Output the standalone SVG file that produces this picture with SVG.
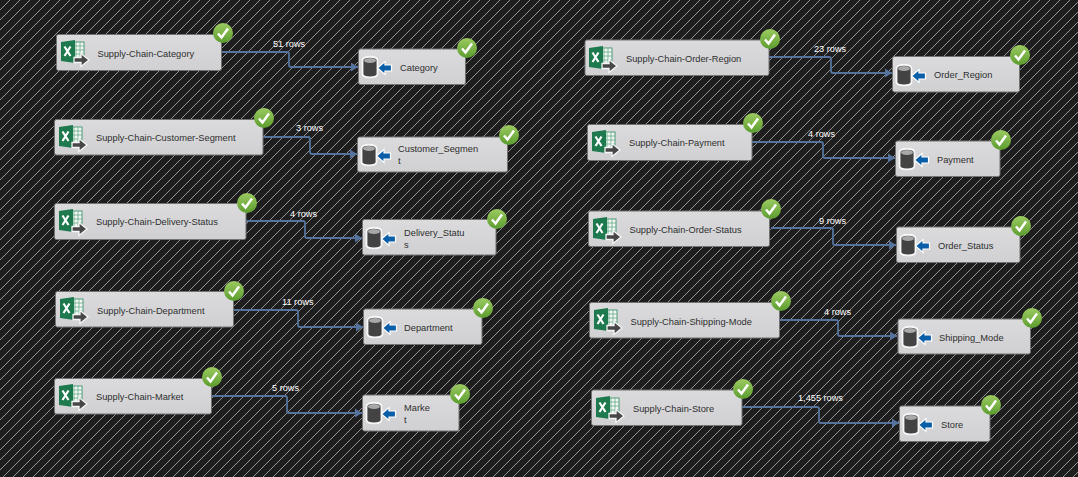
<svg xmlns="http://www.w3.org/2000/svg" width="1078" height="477" viewBox="0 0 1078 477">
<style>
.box{fill:url(#nodeFill);stroke:#737373;stroke-width:1}
.t{font-family:"Liberation Sans",Arial,sans-serif;font-size:9.3px;fill:#2e2e2e}
.r{font-family:"Liberation Sans",Arial,sans-serif;font-size:9.2px;fill:#fff}
.c{fill:none;stroke:#55739c;stroke-width:1.8}
</style>
<defs>
<pattern id="hatch" width="10" height="10" patternUnits="userSpaceOnUse">
<rect width="10" height="10" fill="#1e1e1e"/><path d="M-1,11L11,-1" stroke="#929292" stroke-width="1" shape-rendering="crispEdges"/>
</pattern>
<linearGradient id="nodeFill" x1="0" y1="0" x2="0" y2="1"><stop offset="0" stop-color="#dbdbdd"/><stop offset="1" stop-color="#d0d0d2"/></linearGradient>
<linearGradient id="okFill" x1="0" y1="0" x2="0" y2="1"><stop offset="0" stop-color="#9ccb62"/><stop offset="1" stop-color="#5c9c2e"/></linearGradient>
<marker id="arrow" markerUnits="userSpaceOnUse" markerWidth="8" markerHeight="10" refX="7" refY="5" orient="auto"><path d="M0,0.500L7,5L0,9.500z" fill="#55739c"/></marker>
<g id="ok"><circle r="10" fill="url(#okFill)"/><path d="M-5,0.500L-1.500,4.500L5,-4.500" fill="none" stroke="#fff" stroke-width="2.500"/></g>
<g id="xl">
<rect x="15" y="7" width="12" height="16" fill="#f3f6f4" stroke="#2a8a5c" stroke-width="0.8"/>
<path d="M19,7V23M23,7V23M15,11H27M15,15H27M15,19H27" stroke="#62ad86" stroke-width="0.8"/>
<path d="M4,7L18,5V28L4,26z" fill="#1e7a4e"/>
<path d="M7.500,11.500L13.500,21M13.500,11.500L7.500,21" stroke="#fff" stroke-width="2.200"/>
<path d="M17,22.500H24V18.500L32,25L24,31.500V27.500H17z" fill="#474747" stroke="#f7f7f7" stroke-width="1.300"/>
</g>
<g id="db">
<path d="M2.500,6.500C2.500,1.500 17.500,1.500 17.500,6.500V20C17.500,24.500 2.500,24.500 2.500,20z" fill="#434343" stroke="#f7f7f7" stroke-width="1.800"/>
<ellipse cx="10" cy="6.500" rx="6" ry="2.500" fill="#a8a8a8"/>
<path d="M17.500,14L25,7.500V11H31.500V17H25V20.500z" fill="#0a5ea8" stroke="#fff" stroke-width="1.200"/>
</g>
</defs>
<rect width="1078" height="477" fill="url(#hatch)"/>
<g id="connectors">
<path class="c" marker-end="url(#arrow)" d="M222,52H287Q289,52 289,54V65Q289,67 291,67H358"/>
<path class="c" marker-end="url(#arrow)" d="M263,137H308Q310,137 310,139V152Q310,154 312,154H357"/>
<path class="c" marker-end="url(#arrow)" d="M246,221H303Q305,221 305,223V236Q305,238 307,238H362"/>
<path class="c" marker-end="url(#arrow)" d="M233,310H296Q298,310 298,312V325Q298,327 300,327H363"/>
<path class="c" marker-end="url(#arrow)" d="M212,396H285Q287,396 287,398V411Q287,413 289,413H362"/>
<path class="c" marker-end="url(#arrow)" d="M769,57H829Q831,57 831,59V71Q831,73 833,73H892"/>
<path class="c" marker-end="url(#arrow)" d="M752,142H821Q823,142 823,144V156Q823,158 825,158H895"/>
<path class="c" marker-end="url(#arrow)" d="M771,228H831Q833,228 833,230V243Q833,245 835,245H896"/>
<path class="c" marker-end="url(#arrow)" d="M780,320H836Q838,320 838,322V334Q838,336 840,336H897"/>
<path class="c" marker-end="url(#arrow)" d="M742,407H817Q819,407 819,409V421Q819,423 821,423H899"/>
</g>
<g id="labels">
<text class="r" x="273" y="47">51 rows</text>
<text class="r" x="296" y="131">3 rows</text>
<text class="r" x="290" y="217">4 rows</text>
<text class="r" x="282" y="305">11 rows</text>
<text class="r" x="272" y="391">5 rows</text>
<text class="r" x="814" y="52">23 rows</text>
<text class="r" x="808" y="137">4 rows</text>
<text class="r" x="819" y="224">9 rows</text>
<text class="r" x="824" y="315">4 rows</text>
<text class="r" x="798" y="401">1,455 rows</text>
</g>
<g id="src1"><rect class="box" x="56.500" y="34.500" width="165" height="36" rx="2"/><use href="#xl" x="57" y="35"/><text class="t" x="97.500" y="56.500">Supply-Chain-Category</text><use href="#ok" x="223" y="33"/></g>
<g id="dst1"><rect class="box" x="358.500" y="49" width="107" height="35.500" rx="2"/><use href="#db" x="360" y="54"/><text class="t" x="400" y="71">Category</text><use href="#ok" x="467" y="48"/></g>
<g id="src2"><rect class="box" x="54.500" y="119.500" width="208.500" height="35.500" rx="2"/><use href="#xl" x="55" y="120"/><text class="t" x="96" y="140.500">Supply-Chain-Customer-Segment</text><use href="#ok" x="264" y="118"/></g>
<g id="dst2"><rect class="box" x="357.500" y="137" width="150" height="35" rx="2"/><use href="#db" x="359" y="142"/><text class="t" x="398" y="152">Customer_Segmen</text><text class="t" x="398" y="164">t</text><use href="#ok" x="509" y="135"/></g>
<g id="src3"><rect class="box" x="54.500" y="203.500" width="191.500" height="36" rx="2"/><use href="#xl" x="55" y="204"/><text class="t" x="96" y="225">Supply-Chain-Delivery-Status</text><use href="#ok" x="247" y="203"/></g>
<g id="dst3"><rect class="box" x="362.500" y="219.500" width="133.500" height="35.500" rx="2"/><use href="#db" x="364" y="225"/><text class="t" x="404" y="236">Delivery_Statu</text><text class="t" x="404" y="248">s</text><use href="#ok" x="497" y="219"/></g>
<g id="src4"><rect class="box" x="55.500" y="291.500" width="178" height="35.500" rx="2"/><use href="#xl" x="56" y="292"/><text class="t" x="97" y="313.500">Supply-Chain-Department</text><use href="#ok" x="234" y="291"/></g>
<g id="dst4"><rect class="box" x="363.500" y="309" width="118.500" height="35.500" rx="2"/><use href="#db" x="365" y="314"/><text class="t" x="404" y="331">Department</text><use href="#ok" x="483" y="308"/></g>
<g id="src5"><rect class="box" x="54.500" y="378.500" width="157" height="35.500" rx="2"/><use href="#xl" x="55" y="379"/><text class="t" x="96" y="400">Supply-Chain-Market</text><use href="#ok" x="212" y="377"/></g>
<g id="dst5"><rect class="box" x="362.500" y="395" width="96.500" height="36" rx="2"/><use href="#db" x="364" y="400"/><text class="t" x="404" y="411">Marke</text><text class="t" x="404" y="423">t</text><use href="#ok" x="460" y="394"/></g>
<g id="src6"><rect class="box" x="585" y="40" width="184" height="35.500" rx="2"/><use href="#xl" x="585" y="41"/><text class="t" x="626" y="62">Supply-Chain-Order-Region</text><use href="#ok" x="770" y="39"/></g>
<g id="dst6"><rect class="box" x="892.500" y="56.500" width="127" height="35.500" rx="2"/><use href="#db" x="894" y="62"/><text class="t" x="934" y="78">Order_Region</text><use href="#ok" x="1020" y="55"/></g>
<g id="src7"><rect class="box" x="587.500" y="124.500" width="164.500" height="36" rx="2"/><use href="#xl" x="588" y="125"/><text class="t" x="629" y="146">Supply-Chain-Payment</text><use href="#ok" x="753" y="123"/></g>
<g id="dst7"><rect class="box" x="895.500" y="141" width="104.500" height="35.500" rx="2"/><use href="#db" x="897" y="146"/><text class="t" x="937" y="163">Payment</text><use href="#ok" x="1001" y="140"/></g>
<g id="src8"><rect class="box" x="588.500" y="211" width="181" height="35.500" rx="2"/><use href="#xl" x="589" y="212"/><text class="t" x="629.500" y="232.500">Supply-Chain-Order-Status</text><use href="#ok" x="771" y="209"/></g>
<g id="dst8"><rect class="box" x="896.500" y="227" width="123.500" height="35.500" rx="2"/><use href="#db" x="898" y="232"/><text class="t" x="938" y="249">Order_Status</text><use href="#ok" x="1021" y="226"/></g>
<g id="src9"><rect class="box" x="589.500" y="302.500" width="190" height="35.500" rx="2"/><use href="#xl" x="590" y="303"/><text class="t" x="630.500" y="324.500">Supply-Chain-Shipping-Mode</text><use href="#ok" x="781" y="301"/></g>
<g id="dst9"><rect class="box" x="898" y="319" width="132.500" height="35" rx="2"/><use href="#db" x="900" y="324"/><text class="t" x="939" y="341">Shipping_Mode</text><use href="#ok" x="1032" y="318"/></g>
<g id="src10"><rect class="box" x="591.500" y="390" width="150.500" height="35.500" rx="2"/><use href="#xl" x="592" y="391"/><text class="t" x="633" y="412">Supply-Chain-Store</text><use href="#ok" x="743" y="389"/></g>
<g id="dst10"><rect class="box" x="899.500" y="406" width="90.500" height="35.500" rx="2"/><use href="#db" x="901" y="411"/><text class="t" x="941" y="428">Store</text><use href="#ok" x="991" y="405"/></g>
</svg>
